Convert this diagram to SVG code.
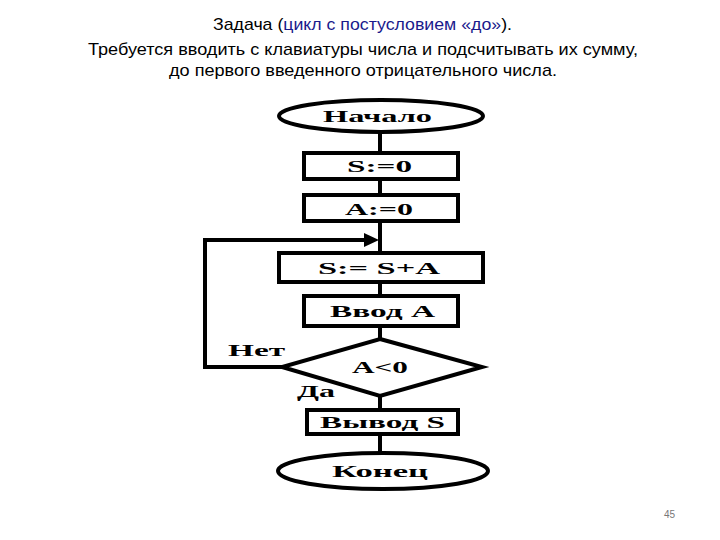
<svg xmlns="http://www.w3.org/2000/svg" width="720" height="540" viewBox="0 0 720 540">
<style>
.t{font-family:"Liberation Sans",Arial,sans-serif;font-size:17px;fill:#000}
.b{fill:#1a1a8c}
.s{fill:#fff;stroke:#000;stroke-width:4}
.l{font-family:"Liberation Serif","Times New Roman",serif;font-weight:bold;font-size:16px;fill:#000}
.c{fill:none;stroke:#000;stroke-width:4}
.pg{font-family:"Liberation Sans",Arial,sans-serif;font-size:10px;fill:#777}
</style>
<rect width="720" height="540" fill="#fff"/>
<g id="title">
<text class="t" x="213" y="30" textLength="299" lengthAdjust="spacingAndGlyphs">Задача (<tspan class="b">цикл с постусловием «до»</tspan>).</text>
<text class="t" x="88" y="55" textLength="550" lengthAdjust="spacingAndGlyphs">Требуется вводить с клавиатуры числа  и подсчитывать их сумму,</text>
<text class="t" x="169" y="76" textLength="388" lengthAdjust="spacingAndGlyphs">до первого введенного отрицательного числа.</text>
</g>
<g id="connectors">
<line class="c" x1="380" y1="132" x2="380" y2="153"/>
<line class="c" x1="380" y1="179" x2="380" y2="195"/>
<line class="c" x1="380" y1="221" x2="380" y2="253"/>
<line class="c" x1="380" y1="282" x2="380" y2="296"/>
<line class="c" x1="380" y1="326" x2="380" y2="339"/>
<line class="c" x1="380" y1="396" x2="380" y2="410"/>
<line class="c" x1="380" y1="434" x2="380" y2="453"/>
<polyline class="c" points="282,367 205,367 205,240 368,240"/>
<path d="M364,233 L379,240 L364,247 z" fill="#000"/>
</g>
<g id="start">
<ellipse class="s" cx="381" cy="116" rx="102" ry="16"/>
<text class="l" x="323" y="122" textLength="109" lengthAdjust="spacingAndGlyphs">Начало</text>
</g>
<g id="s0">
<rect class="s" x="304" y="153" width="154" height="26"/>
<text class="l" x="347" y="172" textLength="65" lengthAdjust="spacingAndGlyphs">S:=0</text>
</g>
<g id="a0">
<rect class="s" x="304" y="195" width="154" height="26"/>
<text class="l" x="345" y="215" textLength="68" lengthAdjust="spacingAndGlyphs">A:=0</text>
</g>
<g id="sum">
<rect class="s" x="279" y="253" width="204" height="29"/>
<text class="l" x="318" y="274" textLength="122" lengthAdjust="spacingAndGlyphs">S:= S+A</text>
</g>
<g id="input">
<rect class="s" x="304" y="296" width="154" height="30"/>
<text class="l" x="330" y="317" textLength="105" lengthAdjust="spacingAndGlyphs">Ввод A</text>
</g>
<g id="cond">
<polygon class="s" points="380,339 482,367 380,396 282,367"/>
<text class="l" x="352" y="373" textLength="56" lengthAdjust="spacingAndGlyphs">A&lt;0</text>
<text class="l" x="228" y="356" textLength="57" lengthAdjust="spacingAndGlyphs">Нет</text>
<text class="l" x="297" y="397" textLength="38" lengthAdjust="spacingAndGlyphs">Да</text>
</g>
<g id="output">
<rect class="s" x="307" y="410" width="151" height="24"/>
<text class="l" x="320" y="428" textLength="125" lengthAdjust="spacingAndGlyphs">Вывод S</text>
</g>
<g id="end">
<ellipse class="s" cx="383" cy="471" rx="105" ry="18"/>
<text class="l" x="332" y="477" textLength="96" lengthAdjust="spacingAndGlyphs">Конец</text>
</g>
<text class="pg" x="664" y="518">45</text>
</svg>
